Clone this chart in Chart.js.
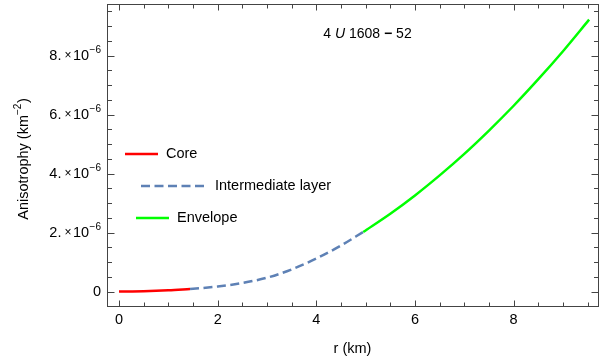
<!DOCTYPE html>
<html>
<head>
<meta charset="utf-8">
<script src="https://cdn.jsdelivr.net/npm/chart.js@4.4.1/dist/chart.umd.min.js"></script>
<style>
html, body { margin: 0; padding: 0; background: #fff; }
#wrap { width: 609px; height: 363px; }
</style>
</head>
<body>
<div id="wrap"><canvas id="anisoChart"></canvas></div>
<script>
// radius (km) and anisotropy (km^-2) for the three regions
const coreR = [0, 0.5, 1.0, 1.44];
const coreA = [0, 0.01e-6, 0.04e-6, 0.085e-6];
const midR = [1.44, 2.0, 2.5, 3.0, 3.5, 4.0, 4.5, 4.95];
const midA = [0.085e-6, 0.17e-6, 0.29e-6, 0.47e-6, 0.75e-6, 1.12e-6, 1.56e-6, 2.02e-6];
const envR = [4.95, 5.5, 6.0, 6.5, 7.0, 7.5, 8.0, 8.5, 9.0, 9.53];
const envA = [2.02e-6, 2.64e-6, 3.26e-6, 3.94e-6, 4.67e-6, 5.46e-6, 6.30e-6, 7.20e-6, 8.15e-6, 9.22e-6];

const xTicks = [0, 2, 4, 6, 8];
const yTicks = [0, 2e-6, 4e-6, 6e-6, 8e-6];
const yTickMantissa = ['0', '2.', '4.', '6.', '8.'];
const seriesNames = ['Core', 'Intermediate layer', 'Envelope'];

const FONT = '"Liberation Sans", Arial, sans-serif';
const frameColor = '#444';

function toPoints(xs, ys) {
    return xs.map((x, i) => ({ x: x, y: ys[i] }));
}

// draws text pieces left to right, returns end x
function drawRun(ctx, parts, x, y) {
    parts.forEach(p => {
        ctx.font = p.font;
        x += p.gap || 0;
        ctx.fillText(p.text, x, y + (p.dy || 0));
        x += ctx.measureText(p.text).width;
    });
    return x;
}

function runWidth(ctx, parts) {
    let w = 0;
    parts.forEach(p => {
        ctx.font = p.font;
        w += (p.gap || 0) + ctx.measureText(p.text).width;
    });
    return w;
}

const framePlugin = {
    id: 'mmaFrame',
    afterDraw(chart) {
        const ctx = chart.ctx;
        const a = chart.chartArea;
        const xs = chart.scales.x;
        const ys = chart.scales.y;
        const L = Math.round(a.left) - 0.5, R = Math.round(a.right) - 0.5;
        const T = Math.round(a.top) + 0.5, B = Math.round(a.bottom) + 0.5;

        ctx.save();
        ctx.strokeStyle = frameColor;
        ctx.lineWidth = 1;
        ctx.strokeRect(L, T, R - L, B - T);

        // inward ticks, major + minor
        ctx.beginPath();
        for (let i = -1; i <= 21; i++) {
            const v = i * 0.5;
            if (v < xs.min || v > xs.max) continue;
            const px = Math.round(xs.getPixelForValue(v)) + 0.5;
            const len = i % 4 === 0 ? 6 : 4;
            ctx.moveTo(px, B); ctx.lineTo(px, B - len);
            ctx.moveTo(px, T); ctx.lineTo(px, T + len);
        }
        for (let i = -1; i <= 21; i++) {
            const v = i * 0.5e-6;
            if (v < ys.min || v > ys.max) continue;
            const py = Math.round(ys.getPixelForValue(v)) + 0.5;
            const len = i % 4 === 0 ? 7 : 4.5;
            ctx.moveTo(L, py); ctx.lineTo(L + len, py);
            ctx.moveTo(R, py); ctx.lineTo(R - len, py);
        }
        ctx.stroke();

        ctx.fillStyle = '#000';
        ctx.textBaseline = 'middle';
        ctx.textAlign = 'left';

        // y tick labels  m. x 10^-6
        const main = '14.5px ' + FONT, small = '12px ' + FONT, sup = '10px ' + FONT;
        yTicks.forEach((v, i) => {
            const py = ys.getPixelForValue(v);
            let parts;
            if (v === 0) {
                parts = [{ text: '0', font: main }];
            } else {
                parts = [
                    { text: yTickMantissa[i], font: main },
                    { text: '\u00d7', font: small, gap: 3 },
                    { text: '10', font: main, gap: 1.5 },
                    { text: '\u22126', font: sup, gap: 0.5, dy: -5 }
                ];
            }
            const w = runWidth(ctx, parts);
            drawRun(ctx, parts, 101 - w, py);
        });

        // y axis title (rotated)
        const yTitle = [
            { text: 'Anisotrophy (km', font: '14.5px ' + FONT },
            { text: '\u22122', font: '10px ' + FONT, dy: -6 },
            { text: ')', font: '14.5px ' + FONT, gap: 0.5 }
        ];
        ctx.save();
        ctx.translate(24, 159);
        ctx.rotate(-Math.PI / 2);
        drawRun(ctx, yTitle, -runWidth(ctx, yTitle) / 2, 0);
        ctx.restore();

        // x axis title
        ctx.font = '14.5px ' + FONT;
        ctx.textAlign = 'center';
        ctx.fillText('r (km)', 352.5, 349);
        ctx.textAlign = 'left';

        // plot label
        const label = [
            { text: '4 ', font: '14px ' + FONT },
            { text: 'U', font: 'italic 14px ' + FONT },
            { text: ' 1608 ', font: '14px ' + FONT },
            { text: '\u2212', font: 'bold 14px ' + FONT },
            { text: ' 52', font: '14px ' + FONT }
        ];
        drawRun(ctx, label, 367.5 - runWidth(ctx, label) / 2, 34);

        // legend
        const legendPos = [
            { x0: 125, x1: 158, y: 154, tx: 166 },
            { x0: 141, x1: 204, y: 186, tx: 215 },
            { x0: 136, x1: 169, y: 218, tx: 177 }
        ];
        chart.data.datasets.forEach((ds, i) => {
            const p = legendPos[i];
            ctx.save();
            ctx.strokeStyle = ds.borderColor;
            ctx.lineWidth = ds.borderWidth;
            ctx.setLineDash(ds.borderDash || []);
            ctx.beginPath();
            ctx.moveTo(p.x0, p.y);
            ctx.lineTo(p.x1, p.y);
            ctx.stroke();
            ctx.restore();
            ctx.font = '14.5px ' + FONT;
            ctx.fillText(ds.label, p.tx, p.y);
        });
        ctx.restore();
    }
};

const ctx = document.getElementById('anisoChart').getContext('2d');
const anisoChart = new Chart(ctx, {
    type: 'line',
    data: {
        datasets: [{
            label: seriesNames[0],
            data: toPoints(coreR, coreA),
            borderColor: '#ff0000',
            borderWidth: 2.5
        }, {
            label: seriesNames[1],
            data: toPoints(midR, midA),
            borderColor: '#5e81b5',
            borderWidth: 2.5,
            borderDash: [9, 4.5]
        }, {
            label: seriesNames[2],
            data: toPoints(envR, envA),
            borderColor: '#00ff00',
            borderWidth: 2.5
        }]
    },
    options: {
        responsive: true,
        maintainAspectRatio: false,
        animation: false,
        layout: { padding: { top: 4, right: 10, left: 0, bottom: 0 } },
        elements: {
            point: { radius: 0 },
            line: { cubicInterpolationMode: 'monotone', fill: false }
        },
        plugins: {
            legend: { display: false },
            tooltip: { enabled: false }
        },
        scales: {
            x: {
                type: 'linear',
                min: -0.223,
                max: 9.73,
                afterBuildTicks: scale => { scale.ticks = xTicks.map(v => ({ value: v })); },
                afterFit: scale => { scale.height = 57; },
                grid: { display: false, drawTicks: false },
                border: { display: false },
                ticks: {
                    color: '#000',
                    padding: 5,
                    maxRotation: 0,
                    font: { family: FONT, size: 14.5 }
                }
            },
            y: {
                type: 'linear',
                min: -0.49e-6,
                max: 9.75e-6,
                afterBuildTicks: scale => { scale.ticks = yTicks.map(v => ({ value: v })); },
                afterFit: scale => { scale.width = 108; },
                grid: { display: false, drawTicks: false },
                border: { display: false },
                ticks: { display: false }
            }
        }
    },
    plugins: [framePlugin]
});
</script>
</body>
</html>
